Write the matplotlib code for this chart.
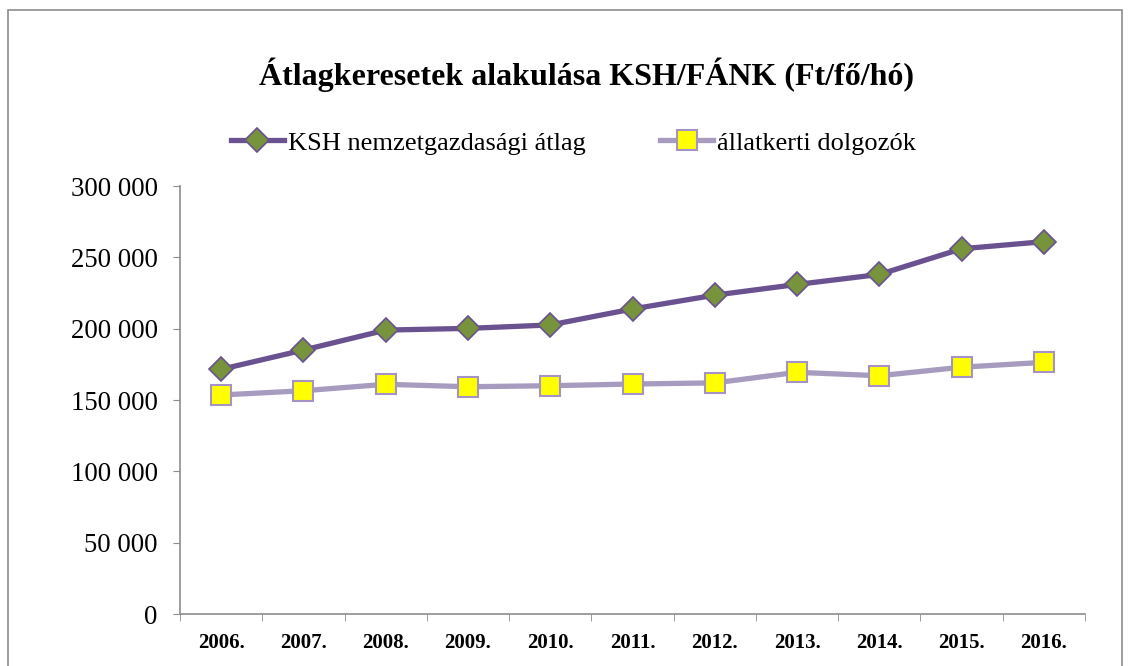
import matplotlib.pyplot as plt
from matplotlib.patches import Rectangle
from matplotlib.ticker import FuncFormatter, FixedLocator

years = ['2006.', '2007.', '2008.', '2009.', '2010.', '2011.', '2012.', '2013.', '2014.', '2015.', '2016.']
ksh = [171500, 185000, 199000, 200200, 202600, 213800, 223500, 231000, 238000, 256000, 261000]
allatkert = [153500, 156500, 161000, 159300, 160000, 161200, 162000, 169400, 167000, 173000, 176400]

plt.rcParams['font.family'] = ['Liberation Serif', 'DejaVu Serif']

fig = plt.figure(figsize=(11.31, 6.66), dpi=100)
fig.patches.append(Rectangle((8 / 1131, -0.1), 1114 / 1131, 1.1 - 10 / 666,
                             transform=fig.transFigure, fill=False,
                             edgecolor='#8c8c8c', linewidth=1.2))

ax = fig.add_axes([180 / 1131, 1 - 614 / 666, 905 / 1131, 428 / 666])
x = list(range(len(years)))
ax.plot(x, ksh, color='#6A5190', linewidth=3.8, marker='D', markersize=12,
        markerfacecolor='#77933C', markeredgecolor='#6A5190', markeredgewidth=1.2,
        label='KSH nemzetgazdasági átlag', zorder=3)
ax.plot(x, allatkert, color='#A89BC0', linewidth=3.8, marker='s', markersize=15,
        markerfacecolor='#FFFF00', markeredgecolor='#A593C6', markeredgewidth=1.5,
        label='állatkerti dolgozók', zorder=3)

ax.set_xlim(-0.5, len(years) - 0.5)
ax.set_ylim(0, 300000)
ax.set_yticks(range(0, 300001, 50000))
ax.yaxis.set_major_formatter(FuncFormatter(lambda v, p: f'{int(v):,}'.replace(',', ' ')))
ax.set_xticks(x)
ax.set_xticklabels(years, fontweight='bold', fontsize=15)
ax.xaxis.set_minor_locator(FixedLocator([i - 0.5 for i in range(len(years) + 1)]))
ax.tick_params(axis='x', which='major', length=0, pad=14)
ax.tick_params(axis='x', which='minor', length=5, color='#8c8c8c', direction='out')
ax.tick_params(axis='y', length=5, color='#8c8c8c', labelsize=19.3, pad=11)

for s in ['top', 'right']:
    ax.spines[s].set_visible(False)
for s in ['left', 'bottom']:
    ax.spines[s].set_color('#8c8c8c')
    ax.spines[s].set_linewidth(1.2)

fig.text(0.5186, 1 - 75 / 666, 'Átlagkeresetek alakulása KSH/FÁNK (Ft/fő/hó)',
         ha='center', va='center', fontsize=23, fontweight='bold')

fig.legend(loc='center', bbox_to_anchor=(0.507, 1 - 143 / 666), ncol=2, frameon=False,
           fontsize=19, handlelength=2.0, handletextpad=0.15, columnspacing=2.85)

plt.savefig('out.png', dpi=100)
